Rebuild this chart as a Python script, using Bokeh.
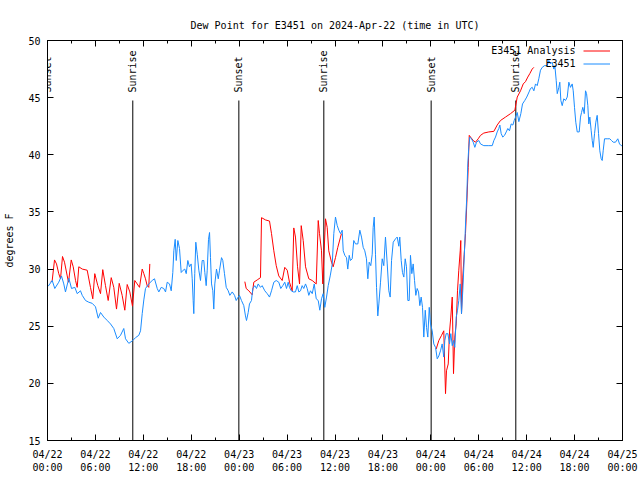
import math
from bokeh.plotting import figure
from bokeh.models import (FixedTicker, LinearAxis, Range1d, Legend, LegendItem,
                          ColumnDataSource, LabelSet, Label)
from bokeh.core.properties import value
from bokeh.embed import file_html
from bokeh.resources import INLINE

NAN = float("nan")

TITLE = "Dew Point for E3451 on 2024-Apr-22 (time in UTC)"
Y_LABEL = "degrees F"
SERIES_NAMES = ["E3451 Analysis", "E3451"]

# x in hours since 2024-04-22 00:00 UTC
TICK_HOURS = [0, 6, 12, 18, 24, 30, 36, 42, 48, 54, 60, 66, 72]
TICK_LABELS = ["04/22\n00:00", "04/22\n06:00", "04/22\n12:00", "04/22\n18:00",
               "04/23\n00:00", "04/23\n06:00", "04/23\n12:00", "04/23\n18:00",
               "04/24\n00:00", "04/24\n06:00", "04/24\n12:00", "04/24\n18:00",
               "04/25\n00:00"]
MINOR_HOURS = [0, 3, 6, 9, 12, 15, 18, 21, 24, 27, 30, 33, 36, 39, 42, 45, 48,
               51, 54, 57, 60, 63, 66, 69, 72]
Y_TICKS = [15, 20, 25, 30, 35, 40, 45, 50]

SUN_TIMES = [0.0, 10.68, 23.96, 34.6, 48.04, 58.64]
SUN_NAMES = ["Sunset", "Sunrise", "Sunset", "Sunrise", "Sunset", "Sunrise"]

BLUE_T = [0.09, 0.59, 0.91, 1.41, 1.75, 2.04, 2.25, 2.67, 3.01, 3.42, 3.72, 4.13,
          4.35, 4.76, 5.17, 5.60, 6.01, 6.35, 6.64, 7.05, 7.48, 7.89, 8.30, 8.73,
          9.14, 9.55, 9.77, 10.18, 10.68, 11.02, 11.43, 11.65, 11.86, 12.06, 12.27,
          12.68, 13.11, 13.40, 13.74, 13.94, 14.24, 14.56, 14.78, 14.99, 15.28,
          15.49, 15.69, 15.82, 15.99, 16.12, 16.32, 16.53, 16.74, 16.99, 17.19,
          17.37, 17.57, 17.78, 17.99, 18.12, 18.24, 18.32, 18.44, 18.57, 18.75,
          18.95, 19.16, 19.37, 19.57, 19.70, 19.87, 20.00, 20.16, 20.29, 20.41,
          20.54, 20.70, 20.82, 20.95, 21.16, 21.38, 21.54, 21.79, 21.95, 22.16,
          22.38, 22.63, 22.83, 23.13, 23.42, 23.63, 23.83, 24.04, 24.29, 24.58,
          24.79, 24.92, 25.13, 25.29, 25.54, 25.71, 25.96, 26.17, 26.38, 26.67,
          26.88, 27.21, 27.51, 27.80, 28.05, 28.34, 28.64, 28.96, 29.21, 29.46,
          29.71, 29.93, 30.14, 30.30, 30.52, 30.77, 31.05, 31.27, 31.47, 31.68,
          31.89, 32.09, 32.31, 32.52, 32.72, 32.93, 33.15, 33.40, 33.65, 33.90,
          34.10, 34.31, 34.52, 34.72, 34.94, 35.15, 35.40, 35.65, 35.85, 36.06,
          36.28, 36.48, 36.69, 36.90, 37.03, 37.23, 37.44, 37.60, 37.78, 37.94,
          38.15, 38.35, 38.57, 38.86, 39.11, 39.32, 39.53, 39.73, 39.94, 40.11,
          40.28, 40.48, 40.66, 40.78, 40.91, 41.07, 41.20, 41.36, 41.49, 41.70,
          41.91, 42.11, 42.32, 42.54, 42.74, 42.91, 43.08, 43.29, 43.58, 43.79,
          43.99, 44.11, 44.29, 44.45, 44.62, 44.79, 44.95, 45.12, 45.29, 45.45,
          45.62, 45.79, 45.96, 46.12, 46.29, 46.46, 46.62, 46.79, 46.96, 47.12,
          47.30, 47.46, 47.62, 47.80, 47.96, 48.17, 48.37, 48.59, 48.80, 49.00,
          49.21, 49.42, 49.62, 49.75, 49.92, 50.13, 50.34, 50.50, 50.68, 50.84,
          51.00, 51.18, 51.34, 51.50, 51.68, 51.84, 52.00, 52.13, 52.25, 52.38,
          52.50, 52.63, 52.75, 52.88, 53.09, 53.31, 53.51, 53.72, 54.01, 54.22,
          54.63, 55.26, 55.69, 55.89, 56.10, 56.31, 56.51, 56.64, 56.81, 57.01,
          57.23, 57.44, 57.64, 57.85, 58.06, 58.27, 58.44, 58.61, 58.82, 59.02,
          59.27, 59.48, 59.76, 60.01, 60.30, 60.48, 60.70, 60.90, 61.11, 61.32,
          61.52, 61.73, 61.95, 62.23, 62.57, 62.77, 62.99, 63.20, 63.40, 63.53,
          63.70, 63.83, 64.03, 64.15, 64.28, 64.45, 64.65, 64.86, 65.08, 65.28,
          65.49, 65.70, 65.83, 65.99, 66.15, 66.33, 66.58, 66.74, 66.87, 67.03,
          67.21, 67.37, 67.50, 67.66, 67.78, 67.91, 68.08, 68.21, 68.33, 68.50,
          68.66, 68.83, 69.00, 69.16, 69.33, 69.46, 69.58, 69.75, 70.08, 70.41,
          70.62, 70.84, 71.12, 71.41, 71.63, 71.84, 72.00]
BLUE_V = [28.5, 29.0, 28.3, 28.85, 29.4, 28.7, 28.0, 29.2, 28.3, 28.4, 27.85, 28.1,
          27.7, 27.25, 27.1, 27.0, 26.7, 25.7, 26.2, 25.8, 25.5, 25.2, 24.8, 23.9,
          24.2, 24.8, 23.9, 23.5, 23.75, 24.0, 24.2, 24.6, 26.1, 27.3, 28.3,
          28.7, 29.0, 29.15, 28.3, 28.0, 28.4, 28.3, 28.0, 28.85, 28.7,
          28.1, 29.7, 31.6, 32.6, 30.75, 32.5, 31.8, 29.7, 29.9, 30.0,
          29.6, 30.75, 30.2, 30.45, 29.15, 27.25, 26.1, 29.6, 32.35, 31.3,
          29.9, 29.0, 30.75, 30.75, 29.7, 28.55, 29.9, 32.6, 33.2, 31.0,
          28.7, 28.1, 26.5, 28.7, 30.0, 29.15, 29.9, 31.0, 30.75, 29.6,
          28.4, 28.1, 27.7, 28.0, 27.7, 27.25, 27.5, 27.7, 27.25, 26.8,
          25.9, 25.5, 26.2, 26.95, 27.25, 28.3, 28.55, 28.3, 28.7, 28.4,
          28.55, 28.1, 27.85, 27.55, 28.1, 28.85, 29.0, 28.85, 28.3, 28.55,
          28.85, 28.3, 28.85, 28.4, 28.1, 28.0, 28.0, 28.55, 28.0, 28.1,
          28.55, 28.3, 28.7, 28.3, 27.7, 28.1, 27.85, 28.7, 27.4, 27.25,
          26.4, 27.4, 27.85, 26.65, 27.55, 28.55, 29.4, 30.4, 33.1, 34.55,
          33.8, 33.4, 33.1, 33.4, 31.6, 31.2, 31.0, 30.0, 31.2, 30.75,
          30.9, 32.5, 32.2, 32.2, 33.4, 32.8, 31.9, 31.6, 30.9, 29.15,
          30.6, 30.3, 31.3, 33.65, 34.55, 31.3, 28.4, 25.9, 26.95, 28.85,
          30.9, 30.3, 32.8, 30.45, 28.1, 27.55, 30.75, 32.35, 32.65, 32.8,
          32.0, 32.8, 30.75, 29.7, 29.3, 30.9, 30.2, 27.25, 27.25, 31.2,
          29.6, 30.45, 29.0, 27.7, 28.3, 28.0, 26.8, 27.55, 26.65, 24.05,
          26.4, 24.9, 24.05, 26.65, 25.2, 24.6, 23.45, 23.15, 22.15, 22.4,
          22.85, 23.45, 22.3, 23.75, 24.35, 24.35, 23.45, 24.35, 23.3, 23.75,
          23.15, 25.8, 26.4, 27.25, 28.7, 26.1, 28.1, 30.15, 32.2, 34.55,
          36.3, 39.2, 40.65, 41.55, 41.4, 41.1, 40.65, 41.1, 41.25, 40.95,
          40.8, 40.8, 40.8, 41.25, 41.55, 42.0, 42.3, 42.6, 41.85, 41.55,
          41.7, 42.0, 42.3, 42.1, 42.7, 42.6, 43.0, 43.3, 43.7, 42.9,
          43.6, 44.45, 44.75, 45.05, 45.5, 45.8, 45.9, 45.6, 46.2, 46.05,
          46.65, 47.4, 47.65, 47.8, 47.8, 48.25, 47.95, 48.1, 47.5, 47.8,
          46.5, 45.35, 45.9, 46.35, 44.75, 44.3, 44.9, 44.75, 45.05, 46.35,
          45.9, 46.2, 45.6, 44.15, 42.85, 42.0, 42.0, 43.3, 43.7, 44.15,
          43.6, 45.6, 45.35, 44.3, 42.7, 43.3, 42.1, 41.25, 40.65, 41.85,
          42.85, 43.45, 41.85, 40.35, 39.65, 39.5, 40.35, 41.4, 41.4, 41.4,
          41.25, 41.1, 41.1, 41.4, 40.95, 40.8, 40.8]

RED_T = [0.38, 0.59, 0.88, 1.13, 1.41, 1.63, 1.88, 2.13, 2.47, 2.63, 2.97, 3.22,
         3.51, 3.72, 3.92, 4.35, 4.97, 5.38, 5.67, 5.92, 6.30, 6.64, 6.92, 7.26,
         7.60, 7.98, 8.30, 8.64, 8.98, 9.35, 9.68, 9.98, 10.31, 10.64, 10.93,
         11.23, 11.52, 11.86, 12.06, 12.27, 12.48, 12.68, 12.81,
         18.0,
         24.71, 24.88, 25.21, 25.63, 25.83, 26.26, 26.67, 26.80, 27.30, 27.80,
         28.05, 28.34, 28.64, 28.96, 29.39, 29.71, 30.02, 30.30, 30.64, 30.84,
         31.05, 31.31, 31.56, 31.77, 32.02, 32.31, 32.72, 33.15, 33.65, 33.90,
         34.06, 34.31, 34.47, 34.81, 35.02, 35.22, 35.56, 35.77, 36.06, 36.35,
         36.69, 36.81,
         42.0,
         48.67, 49.00, 49.34, 49.62, 49.84, 49.96, 50.18, 50.34, 50.50, 50.68,
         50.84, 51.00, 51.18, 51.34, 51.50, 51.68, 51.75, 51.84, 52.00, 52.18,
         52.34, 52.50, 52.68, 52.81, 52.97, 53.31, 53.59, 53.93, 54.22, 54.63,
         55.26, 55.89, 56.31, 56.72, 57.35, 57.98, 58.52, 58.82, 59.23, 59.57,
         59.85, 60.14, 60.39, 60.69, 60.90]
RED_V = [28.85, 29.0, 30.8, 30.45, 29.6, 29.15, 31.1, 30.6, 29.4, 28.85, 30.8, 30.2,
         29.0, 28.4, 30.2, 30.0, 29.9, 28.4, 27.4, 29.6, 28.55, 27.85, 29.95, 28.55,
         27.25, 29.25, 28.4, 26.5, 28.75, 27.7, 26.4, 28.65, 28.0, 26.75, 29.0,
         28.7, 28.4, 30.0, 29.6, 29.15, 28.55, 28.4, 30.45,
         NAN,
         28.9, 28.3, 28.1, 27.75, 28.85, 29.05, 29.25, 34.5, 34.3, 34.2,
         33.1, 31.6, 30.3, 29.4, 29.0, 30.15, 29.9, 28.85, 28.1, 33.6,
         32.8, 30.2, 28.7, 33.8, 32.5, 30.2, 29.15, 29.0, 28.7, 34.25,
         33.1, 31.6, 28.7, 34.4, 33.65, 31.6, 30.6, 30.2, 31.0, 31.9,
         32.8, 33.1,
         NAN,
         23.0, 23.75, 24.2, 24.6, 19.1, 21.1, 21.7, 24.5, 25.8, 27.55,
         20.85, 24.05, 25.2, 28.1, 29.9, 31.6, 32.5, 26.1, 29.3, 31.3,
         33.1, 35.7, 38.9, 41.7, 41.55, 41.25, 41.1, 41.4, 41.7, 41.9,
         42.0, 42.05, 42.6, 43.0, 43.3, 43.6, 43.9, 45.05, 45.6, 46.2,
         46.4, 46.8, 47.1, 47.5, 47.65]

FONT = "DejaVu Sans Mono"
FS = "10px"
BLUE = "#1A8CFF"
RED = "#FF0000"

p = figure(width=640, height=480, output_backend="svg", toolbar_location=None,
           x_range=Range1d(0, 72), y_range=Range1d(15, 50),
           x_axis_type=None, y_axis_type=None,
           min_border_left=47, min_border_right=18, min_border_top=40,
           min_border_bottom=40)
p.background_fill_color = "white"
p.border_fill_color = "white"
p.outline_line_color = "black"
p.outline_line_width = 1
p.xgrid.visible = False
p.ygrid.visible = False

p.title.text = TITLE
p.title.align = "center"
p.title.text_font = FONT
p.title.text_font_size = FS
p.title.text_font_style = "normal"
p.title.text_color = "black"
p.title.standoff = 20


def style(ax, show_labels, ticks):
    ax.axis_line_color = "black"
    ax.major_tick_line_color = "black"
    ax.minor_tick_line_color = "black"
    ax.major_tick_in = 6
    ax.major_tick_out = 0
    ax.minor_tick_in = 3
    ax.minor_tick_out = 0
    ax.major_label_text_font = FONT
    ax.major_label_text_font_size = FS
    ax.major_label_text_color = "black"
    ax.axis_label_text_font = FONT
    ax.axis_label_text_font_size = FS
    ax.axis_label_text_font_style = "normal"
    ax.axis_label_text_color = "black"
    if not show_labels:
        ax.major_label_overrides = {t: "" for t in ticks}
        ax.major_label_standoff = 0


xticker = FixedTicker(ticks=TICK_HOURS, minor_ticks=MINOR_HOURS)
yticker = FixedTicker(ticks=Y_TICKS, minor_ticks=[])

xb = LinearAxis(ticker=xticker)
style(xb, True, TICK_HOURS)
xb.major_label_overrides = {h: lab for h, lab in zip(TICK_HOURS, TICK_LABELS)}
xb.major_label_standoff = 8
xb.major_label_text_line_height = 1.2
p.add_layout(xb, "below")

xt = LinearAxis(ticker=xticker)
style(xt, False, TICK_HOURS)
p.add_layout(xt, "above")

yl = LinearAxis(ticker=yticker, axis_label=Y_LABEL)
style(yl, True, Y_TICKS)
yl.major_label_standoff = 7
yl.axis_label_standoff = 10
p.add_layout(yl, "left")

yr = LinearAxis(ticker=yticker)
style(yr, False, Y_TICKS)
p.add_layout(yr, "right")

# sunrise / sunset markers
p.segment(x0=SUN_TIMES, y0=[15] * len(SUN_TIMES), x1=SUN_TIMES,
          y1=[44.75] * len(SUN_TIMES), line_color="black", line_width=1)
sun_src = ColumnDataSource(dict(t=SUN_TIMES, name=SUN_NAMES,
                                y=[45.45] * len(SUN_TIMES)))
p.add_layout(LabelSet(x="t", y="y", text="name", source=sun_src,
                      angle=math.pi / 2, text_align="left",
                      text_baseline="middle", text_font=value(FONT),
                      text_font_size=value(FS), text_color="black"))

r_red = p.line(RED_T, RED_V, line_color=RED, line_width=1)
r_blue = p.line(BLUE_T, BLUE_V, line_color=BLUE, line_width=1)

# gnuplot-style key: sample lines on the right, right-aligned names to their left
legend = Legend(items=[LegendItem(label="", renderers=[r_red]),
                       LegendItem(label="", renderers=[r_blue])],
                location=(534, 368), border_line_alpha=0,
                background_fill_alpha=0, label_text_font=FONT,
                label_text_font_size=FS, glyph_width=27, glyph_height=13,
                label_height=13, spacing=0, padding=2, margin=0,
                label_standoff=0, label_width=0)
p.add_layout(legend)
for i, name in enumerate(SERIES_NAMES):
    p.add_layout(Label(x=528, y=390 - 13 * i, x_units="screen",
                       y_units="screen", text=name, text_align="right",
                       text_baseline="middle", text_font=FONT,
                       text_font_size=FS, text_color="black"))

open("out.html", "w").write(file_html(p, INLINE))
